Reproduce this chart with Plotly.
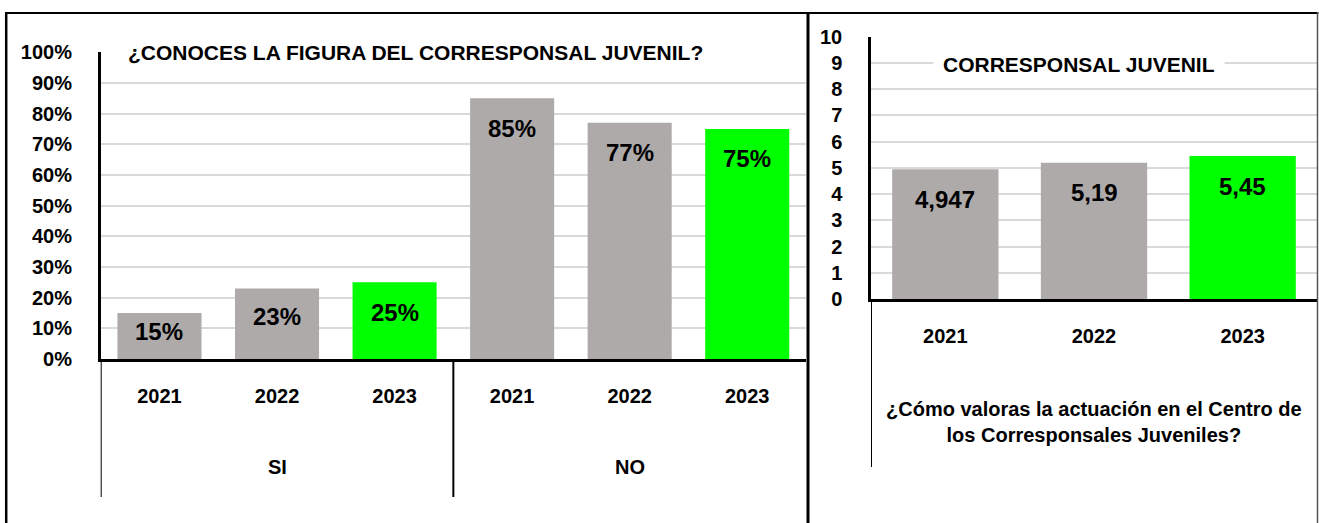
import plotly.graph_objects as go

# ---------------- data ----------------
groups = ["SI", "NO"]
years = ["2021", "2022", "2023"]
si_values = [0.15, 0.23, 0.25]
no_values = [0.85, 0.77, 0.75]
left_title = "¿CONOCES LA FIGURA DEL CORRESPONSAL JUVENIL?"

score_years = ["2021", "2022", "2023"]
scores = [4.947, 5.19, 5.45]
right_title = "CORRESPONSAL JUVENIL"
right_axis_title = "¿Cómo valoras la actuación en el Centro de<br>los Corresponsales Juveniles?"

# ---------------- styling ----------------
W, H = 1319, 523
FONT = "Liberation Sans"
GRAY = "#AEAAAA"
GREEN = "#00FF00"
GRID = "#D9D9D9"
year_colors = [GRAY, GRAY, GREEN]


def px(x):
    return x / W


def py(y):
    return 1 - y / H


# left panel geometry (pixels)
L_X0, L_X1 = 100.7, 806.0
L_Y0, L_Y100 = 359.0, 52.3
# right panel geometry
R_X0, R_X1 = 871.0, 1317.0
R_Y0, R_Y10 = 299.0, 36.7

left_x = [f"{g} {y}" for g in groups for y in years]
left_vals = si_values + no_values
left_text = [y for g in groups for y in years]
left_colors = [c for g in groups for c in year_colors]
right_x = [f"R {y}" for y in score_years]

fig = go.Figure()
fig.add_trace(go.Bar(x=left_x, y=left_vals, marker_color=left_colors,
                     marker_line_width=0, xaxis="x", yaxis="y",
                     showlegend=False, hoverinfo="skip"))
fig.add_trace(go.Bar(x=right_x, y=scores, marker_color=year_colors,
                     marker_line_width=0, xaxis="x2", yaxis="y2",
                     showlegend=False, hoverinfo="skip"))

tickfont = dict(family=FONT, size=20, color="black", weight="bold")
common_x = dict(type="category", showgrid=False, zeroline=False, showline=True,
                linecolor="black", linewidth=2.5, ticks="outside", ticklen=17,
                tickcolor="rgba(0,0,0,0)", tickfont=tickfont, fixedrange=True)
common_y = dict(showgrid=True, gridcolor=GRID, gridwidth=1.5, zeroline=False,
                showline=True, linecolor="black", linewidth=2.5, ticks="outside",
                ticklen=22, tickcolor="rgba(0,0,0,0)", tickfont=tickfont,
                fixedrange=True)

fig.update_layout(
    width=W, height=H, autosize=False,
    margin=dict(l=0, r=0, t=0, b=0, pad=0, autoexpand=False),
    paper_bgcolor="white", plot_bgcolor="white",
    bargap=0.285,
    font=dict(family=FONT, color="black"),
    xaxis=dict(domain=[px(L_X0), px(L_X1)], tickvals=left_x, ticktext=left_text,
               anchor="y", range=[-0.5, 5.5], **common_x),
    yaxis=dict(domain=[py(L_Y0), py(L_Y100)], range=[0, 1], dtick=0.1,
               tickformat=".0%", anchor="x", **common_y),
    xaxis2=dict(domain=[px(R_X0), px(R_X1)], tickvals=right_x, ticktext=score_years,
                anchor="y2", range=[-0.5, 2.5], **common_x),
    yaxis2=dict(domain=[py(R_Y0), py(R_Y10)], range=[0, 10], dtick=1,
                anchor="x2", **common_y),
)

annotations = []
label_font = dict(family=FONT, size=24, color="black", weight="bold")

# data labels, left
l_scale = (L_Y0 - L_Y100) / 1.0
for i, v in enumerate(left_vals):
    hpx = v * l_scale
    annotations.append(dict(x=i, y=v, xref="x", yref="y", text=f"{v:.0%}",
                            showarrow=False, font=label_font,
                            yshift=-min(30, 0.4 * hpx), yanchor="middle"))
# data labels, right
r_scale = (R_Y0 - R_Y10) / 10.0
for i, v in enumerate(scores):
    hpx = v * r_scale
    annotations.append(dict(x=i, y=v, xref="x2", yref="y2",
                            text=f"{v:g}".replace(".", ","),
                            showarrow=False, font=label_font,
                            yshift=-min(30, 0.4 * hpx), yanchor="middle"))

# group labels
for gi, g in enumerate(groups):
    annotations.append(dict(x=gi * len(years) + (len(years) - 1) / 2, y=py(467),
                            xref="x", yref="paper", text=g, showarrow=False,
                            font=tickfont, yanchor="middle"))

# titles with white background
title_font = dict(family=FONT, size=21, color="black", weight="bold")
annotations.append(dict(x=px(415), y=py(53), xref="paper", yref="paper",
                        text=left_title, showarrow=False, font=title_font,
                        bgcolor="white", borderpad=9, xanchor="center",
                        yanchor="middle"))
annotations.append(dict(x=px(1079), y=py(64), xref="paper", yref="paper",
                        text=right_title, showarrow=False, font=title_font,
                        bgcolor="white", borderpad=9, xanchor="center",
                        yanchor="middle"))
annotations.append(dict(x=0.5, y=py(422), xref="x2 domain", yref="paper",
                        text=right_axis_title, showarrow=False,
                        font=dict(family=FONT, size=20, color="black", weight="bold"),
                        xanchor="center", yanchor="middle"))
fig.update_layout(annotations=annotations)

shapes = []
# category group dividers (left)
for xv in [-0.5, 2.5]:
    shapes.append(dict(type="line", xref="x", yref="paper", x0=xv, x1=xv,
                       y0=py(L_Y0), y1=py(497), line=dict(color="black", width=2)))
# right axis extension
shapes.append(dict(type="line", xref="x2", yref="paper", x0=-0.5, x1=-0.5,
                   y0=py(R_Y0), y1=py(467), line=dict(color="black", width=2)))
# panel borders
shapes.append(dict(type="line", xref="paper", yref="paper", x0=px(5), x1=px(1318.5),
                   y0=py(13), y1=py(13), line=dict(color="black", width=2)))
shapes.append(dict(type="line", xref="paper", yref="paper", x0=px(6.2), x1=px(6.2),
                   y0=py(12), y1=py(530), line=dict(color="black", width=2.5)))
shapes.append(dict(type="line", xref="paper", yref="paper", x0=px(808), x1=px(808),
                   y0=py(12), y1=py(530), line=dict(color="black", width=3)))
shapes.append(dict(type="line", xref="paper", yref="paper", x0=px(1317.5), x1=px(1317.5),
                   y0=py(12), y1=py(530), line=dict(color="#555555", width=1.5)))
fig.update_layout(shapes=shapes)

fig.write_html("out.html", config={"displayModeBar": False},
               post_script="document.body.style.margin='0';"
                           "document.body.style.overflow='hidden';")
